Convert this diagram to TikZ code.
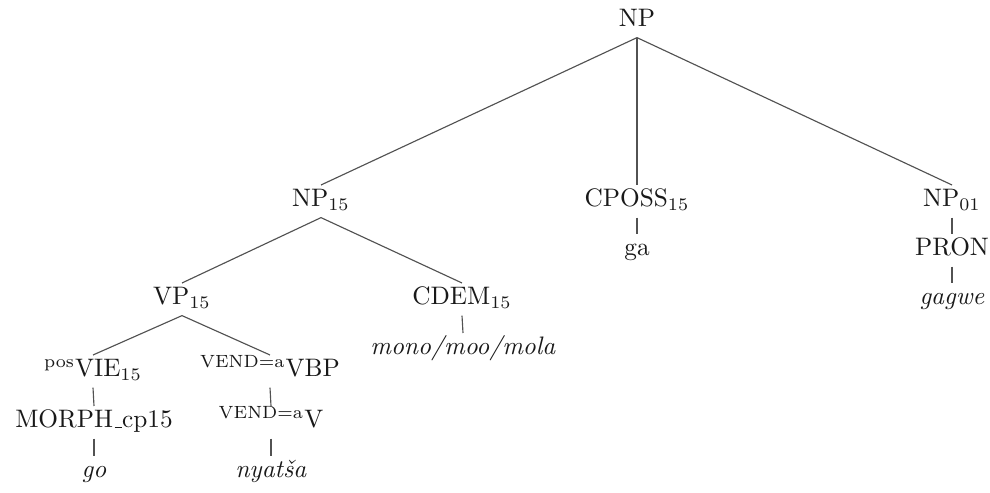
\documentclass[tikz,border=0pt]{standalone}
\newcommand{\lowbar}{\leavevmode\kern.06em\vbox{\hrule width.3em}}
\begin{document}
\begin{tikzpicture}[x=0.3953pt,y=-0.3953pt,
  lbl/.style={anchor=base, inner sep=0pt, text height=8.5pt, text depth=4pt,
              font=\fontsize{10}{12}\selectfont, text=black!90},
  branch/.style={draw=black!68, line width=0.45pt}]
\useasboundingbox (0,0) rectangle (990,493);

% root
\node[lbl] (np)     at (637,27)  {NP};
% second level
\node[lbl] (np15)   at (321,207) {NP$_{15}$};
\node[lbl] (cposs)  at (637,207) {CPOSS$_{15}$};
\node[lbl] (np01)   at (952,207) {NP$_{01}$};
\node[lbl] (ga)     at (637,256) {ga};
\node[lbl] (pron)   at (952,256) {PRON};
\node[lbl] (gagwe)  at (952,305) {\textit{gagwe}};
% noun phrase 15
\node[lbl] (vp15)   at (182,305) {VP$_{15}$};
\node[lbl] (cdem)   at (462,305) {CDEM$_{15}$};
\node[lbl] (mono)   at (463,355) {\textit{mono/moo/mola}};
% verb phrase
\node[lbl] (vie)    at (93,377)  {\textsuperscript{pos}VIE$_{15}$};
\node[lbl] (vbp)    at (270,377) {\textsuperscript{VEND=a}VBP};
\node[lbl] (morph)  at (94,428)  {MORPH\lowbar cp15};
\node[lbl] (v)      at (271,428) {\textsuperscript{VEND=a}V};
\node[lbl] (go)     at (94,478)  {\textit{go}};
\node[lbl] (nyatsa) at (271,478) {\textit{nyatša}};

% branches
\draw[branch] (np.south) -- (np15.north);
\draw[branch] (np.south) -- (cposs.north);
\draw[branch] (np.south) -- (np01.north);
\draw[branch] (cposs.south) -- (ga.north);
\draw[branch] (np01.south) -- (pron.north);
\draw[branch] (pron.south) -- (gagwe.north);
\draw[branch] (np15.south) -- (vp15.north);
\draw[branch] (np15.south) -- (cdem.north);
\draw[branch] (cdem.south) -- (mono.north);
\draw[branch] (vp15.south) -- (vie.north);
\draw[branch] (vp15.south) -- (vbp.north);
\draw[branch] (vie.south) -- (morph.north);
\draw[branch] (vbp.south) -- (v.north);
\draw[branch] (morph.south) -- (go.north);
\draw[branch] (v.south) -- (nyatsa.north);
\end{tikzpicture}
\end{document}
